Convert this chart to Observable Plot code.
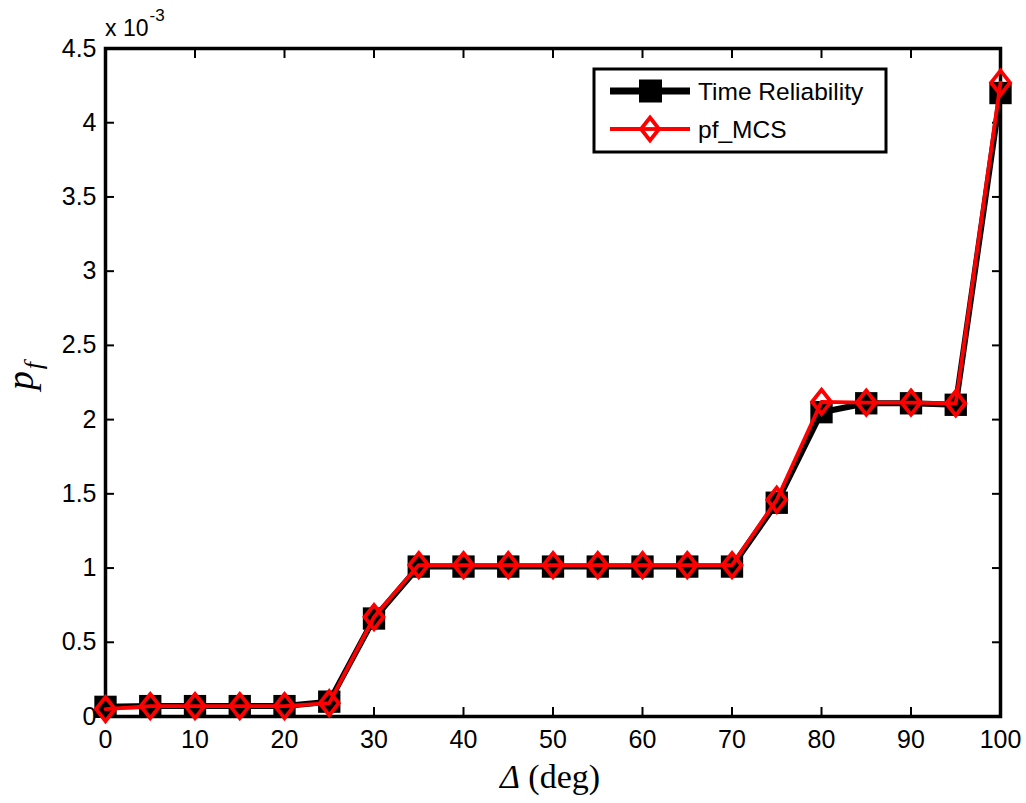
<!DOCTYPE html>
<html>
<head>
<meta charset="utf-8">
<script src="https://cdn.jsdelivr.net/npm/d3@7"></script>
<script src="https://cdn.jsdelivr.net/npm/@observablehq/plot@0.6"></script>
<style>
  body { margin: 0; background: #fff; }
  svg { display: block; }
</style>
</head>
<body>
<div id="chart"></div>
<script>
// Δ (deg)
const deltas = [0, 5, 10, 15, 20, 25, 30, 35, 40, 45, 50, 55, 60, 65, 70, 75, 80, 85, 90, 95, 100];
// p_f in units of 1e-3
const timeReliability = [0.065, 0.07, 0.07, 0.07, 0.07, 0.1, 0.66, 1.01, 1.01, 1.01, 1.01, 1.01, 1.01, 1.01, 1.01, 1.44, 2.05, 2.11, 2.11, 2.10, 4.20];
const pfMCS = [0.05, 0.07, 0.07, 0.07, 0.07, 0.09, 0.67, 1.02, 1.02, 1.02, 1.02, 1.02, 1.02, 1.02, 1.02, 1.46, 2.12, 2.115, 2.115, 2.11, 4.27];
const xTicks = [0, 10, 20, 30, 40, 50, 60, 70, 80, 90, 100];
const yTicks = [0, 0.5, 1, 1.5, 2, 2.5, 3, 3.5, 4, 4.5];
const seriesNames = ["Time Reliability", "pf_MCS"];

const tr = deltas.map((d, i) => ({x: d, y: timeReliability[i]}));
const mcs = deltas.map((d, i) => ({x: d, y: pfMCS[i]}));

const matlabDiamond = {
  draw(ctx, size) {
    const r = Math.sqrt(size / Math.PI);
    const hh = r * 1.15, hw = r * 0.9;
    ctx.moveTo(0, -hh);
    ctx.lineTo(hw, 0);
    ctx.lineTo(0, hh);
    ctx.lineTo(-hw, 0);
    ctx.closePath();
  }
};

const font = "'Liberation Sans', Arial, sans-serif";
const blank = () => "";

const chart = Plot.plot({
  width: 1026,
  height: 803,
  marginLeft: 105,
  marginRight: 26,
  marginTop: 48,
  marginBottom: 87,
  style: {fontFamily: font, fontSize: "25px", color: "black", background: "white"},
  x: {domain: [0, 100], label: null},
  y: {domain: [0, 4.5], label: null},
  marks: [
    Plot.axisX(xTicks, {anchor: "bottom", tickSize: -9, strokeWidth: 2, tickFormat: blank}),
    Plot.axisX(xTicks, {anchor: "top", tickSize: -9, strokeWidth: 2, tickFormat: blank}),
    Plot.axisY(yTicks, {anchor: "left", tickSize: -9, strokeWidth: 2, tickFormat: blank}),
    Plot.axisY(yTicks, {anchor: "right", tickSize: -9, strokeWidth: 2, tickFormat: blank}),
    Plot.axisX(xTicks, {anchor: "bottom", tickSize: 0, tickPadding: 14, tickFormat: d => String(d), fontSize: 25}),
    Plot.axisY(yTicks, {anchor: "left", tickSize: 0, tickPadding: 9, tickFormat: d => String(d), fontSize: 25}),
    Plot.frame({stroke: "black", strokeWidth: 3.5}),
    Plot.line(tr, {x: "x", y: "y", stroke: "black", strokeWidth: 6, strokeLinejoin: "miter"}),
    Plot.dot(tr, {x: "x", y: "y", symbol: "square", r: 12.6, fill: "black", stroke: "none"}),
    Plot.line(mcs, {x: "x", y: "y", stroke: "#ff0000", strokeWidth: 3.8}),
    Plot.dot(mcs, {x: "x", y: "y", symbol: matlabDiamond, r: 10.5, fill: "none", stroke: "#ff0000", strokeWidth: 3.8})
  ]
});

document.getElementById("chart").appendChild(chart);
const svg = d3.select(chart);

// exponent label
const expo = svg.append("text")
  .attr("x", 105).attr("y", 36)
  .attr("text-anchor", "start")
  .attr("font-family", font).attr("font-size", 23).attr("fill", "black");
expo.append("tspan").text("x 10");
expo.append("tspan").attr("font-size", 17).attr("dy", -15).attr("dx", 1).text("-3");

// x label
const xl = svg.append("text")
  .attr("x", 550).attr("y", 788)
  .attr("text-anchor", "middle")
  .attr("font-family", "'Liberation Serif', 'Times New Roman', serif")
  .attr("font-size", 34).attr("fill", "black");
xl.append("tspan").attr("font-style", "italic").text("Δ");
xl.append("tspan").text(" (deg)");

// y label
const yl = svg.append("text")
  .attr("transform", "translate(33,376) rotate(-90)")
  .attr("text-anchor", "middle")
  .attr("font-family", "'Liberation Serif', 'Times New Roman', serif")
  .attr("font-style", "italic")
  .attr("font-size", 38).attr("fill", "black");
yl.append("tspan").text("p");
yl.append("tspan").attr("font-size", 26).attr("dy", 9).attr("dx", 2).text("f");

// legend
const lg = svg.append("g");
lg.append("rect").attr("x", 594).attr("y", 69).attr("width", 292).attr("height", 83)
  .attr("fill", "white").attr("stroke", "black").attr("stroke-width", 3);
const rows = [91, 129];
// row 1
lg.append("line").attr("x1", 610).attr("x2", 690).attr("y1", rows[0]).attr("y2", rows[0])
  .attr("stroke", "black").attr("stroke-width", 7);
lg.append("rect").attr("x", 639).attr("y", rows[0] - 11.5).attr("width", 23).attr("height", 23).attr("fill", "black");
// row 2
lg.append("line").attr("x1", 610).attr("x2", 690).attr("y1", rows[1]).attr("y2", rows[1])
  .attr("stroke", "#ff0000").attr("stroke-width", 4);
lg.append("path").attr("d", `M650,${rows[1]-11.5}L659,${rows[1]}L650,${rows[1]+11.5}L641,${rows[1]}Z`)
  .attr("fill", "white").attr("stroke", "#ff0000").attr("stroke-width", 3.8);
lg.append("line").attr("x1", 641).attr("x2", 659).attr("y1", rows[1]).attr("y2", rows[1])
  .attr("stroke", "#ff0000").attr("stroke-width", 3.8);
seriesNames.forEach((name, i) => {
  lg.append("text").attr("x", 698).attr("y", rows[i] + 9)
    .attr("text-anchor", "start")
    .attr("font-family", font).attr("font-size", 24.5).attr("fill", "black").text(name);
});
</script>
</body>
</html>
